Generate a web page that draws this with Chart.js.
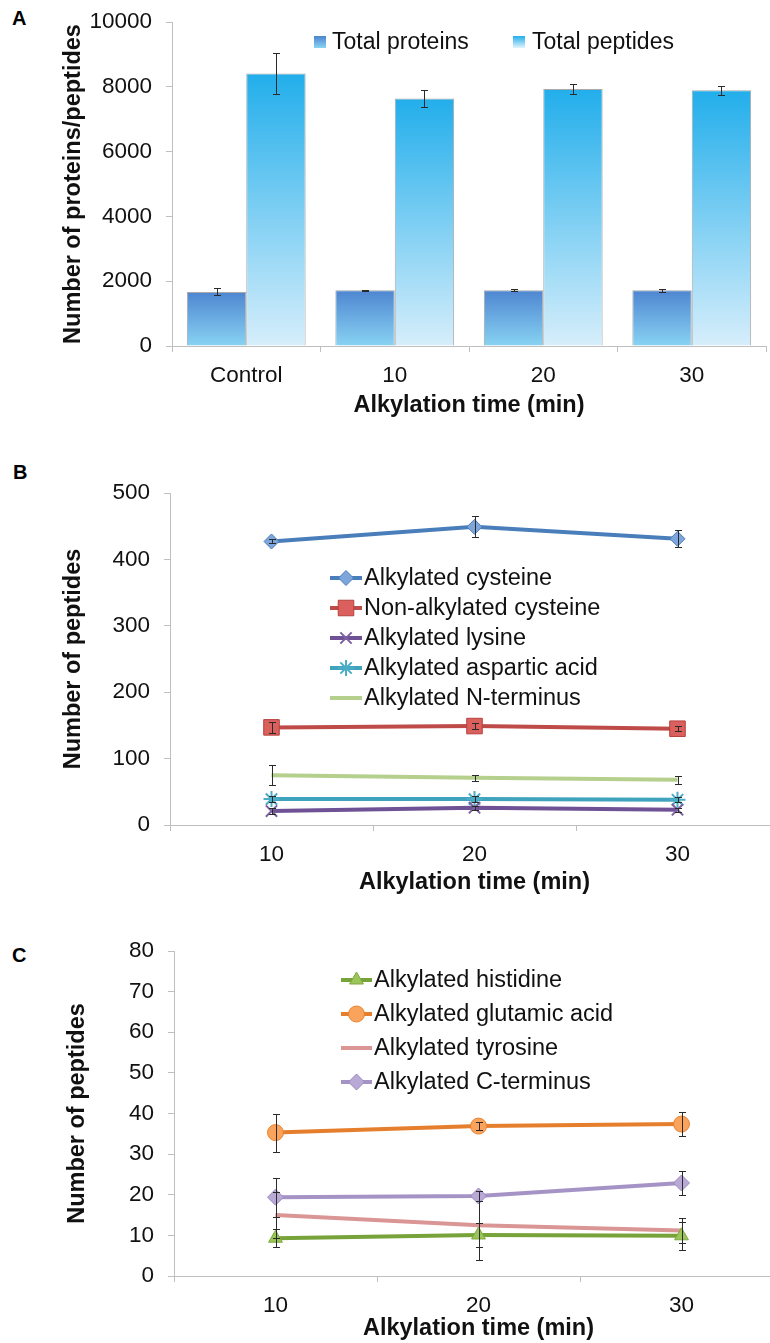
<!DOCTYPE html>
<html><head><meta charset="utf-8">
<script src="https://cdn.jsdelivr.net/npm/chart.js@4.4.1/dist/chart.umd.min.js"></script>
<style>
html,body{margin:0;padding:0;background:#fff;}
body{width:770px;height:1343px;overflow:hidden;position:relative;}
canvas{position:absolute;left:0;}
.lbl{position:absolute;font:bold 20px 'Liberation Sans',Arial,sans-serif;line-height:20px;color:#000;}
</style></head><body>
<div class="lbl" style="left:12px;top:8px">A</div>
<div class="lbl" style="left:13px;top:462px">B</div>
<div class="lbl" style="left:12px;top:945px">C</div>
<canvas id="cA" width="770" height="420" style="top:0;width:770px;height:420px"></canvas>
<canvas id="cB" width="800" height="460" style="top:440px;width:800px;height:460px"></canvas>
<canvas id="cC" width="800" height="443" style="top:900px;width:800px;height:443px"></canvas>
<script>
// ---------- DATA ----------
const categoriesA = ['Control', '10', '20', '30'];
const totalProteins = [1670, 1720, 1720, 1720];
const totalProteinsErr = [110, 20, 30, 40];
const totalPeptides = [8410, 7640, 7930, 7890];
const totalPeptidesErr = [640, 260, 160, 135];

const timesB = ['10', '20', '30'];
const alkCysteine = [427, 449, 431];
const alkCysteineErr = [3, 16, 13];
const nonAlkCysteine = [147, 149, 145];
const nonAlkCysteineErr = [8, 4, 4];
const alkLysine = [21, 26, 23];
const alkLysineErr = [4, 3, 3];
const alkAspartic = [39, 39, 38];
const alkAsparticErr = [4, 4, 4];
const alkNterm = [75, 71, 68];
const alkNtermErr = [15, 4, 6];

const timesC = ['10', '20', '30'];
const alkHistidine = [9.3, 10.1, 9.9];
const alkHistidineErr = [2.2, 3, 3.4];
const alkGlutamic = [35.3, 36.9, 37.4];
const alkGlutamicErr = [4.7, 1, 2.9];
const alkTyrosine = [15.0, 12.5, 11.2];
const alkTyrosineErr = [5.6, 8.5, 3.1];
const alkCterm = [19.4, 19.7, 22.9];
const alkCtermErr = [4.8, 1.3, 3];

// ---------- STYLE ----------
const FONT = "'Liberation Sans', Arial, sans-serif";
Chart.defaults.font.family = FONT;
Chart.defaults.color = '#111';
Chart.defaults.animation = false;
const AXIS = '#bfbfbf';
const TICK_SIZE = 22.5;
const TITLE_SIZE = 23.5;

const errorBars = {
  id: 'errorBars',
  afterDatasetsDraw(chart) {
    const ctx = chart.ctx, ys = chart.scales.y;
    chart.data.datasets.forEach((ds, di) => {
      if (!ds.errors) return;
      const meta = chart.getDatasetMeta(di);
      meta.data.forEach((el, i) => {
        const v = ds.data[i], e = ds.errors[i];
        const x = Math.round(el.x) + 0.5;
        const yt = Math.round(ys.getPixelForValue(v + e)) + 0.5;
        const yb = Math.round(ys.getPixelForValue(Math.max(0, v - e))) + 0.5;
        ctx.save();
        ctx.strokeStyle = '#2a2a2a'; ctx.lineWidth = 1;
        ctx.beginPath();
        ctx.moveTo(x, yt); ctx.lineTo(x, yb);
        ctx.moveTo(x - 3.5, yt); ctx.lineTo(x + 3.5, yt);
        ctx.moveTo(x - 3.5, yb); ctx.lineTo(x + 3.5, yb);
        ctx.stroke();
        ctx.restore();
      });
    });
  }
};

const barLegend = {
  id: 'barLegend',
  afterDraw(chart, args, opts) {
    if (!opts || !opts.items) return;
    const ctx = chart.ctx;
    chart.data.datasets.forEach((ds, i) => {
      const it = opts.items[i];
      const s = opts.size, y = opts.y;
      ctx.save();
      const g = ctx.createLinearGradient(0, y - s / 2, 0, y + s / 2);
      g.addColorStop(0, ds.gradTop); g.addColorStop(1, ds.gradBottom);
      ctx.fillStyle = g;
      ctx.fillRect(it.x, y - s / 2, s, s);
      ctx.fillStyle = '#111';
      ctx.font = opts.fontSize + 'px ' + FONT;
      ctx.textBaseline = 'middle';
      ctx.fillText(ds.label, it.tx, y + 1);
      ctx.restore();
    });
  }
};

const lineLegend = {
  id: 'lineLegend',
  afterDraw(chart, args, opts) {
    if (!opts || opts.y0 === undefined) return;
    const ctx = chart.ctx;
    chart.data.datasets.forEach((ds, i) => {
      const y = opts.y0 + i * opts.dy;
      ctx.save();
      ctx.strokeStyle = ds.borderColor; ctx.lineWidth = ds.borderWidth;
      ctx.beginPath(); ctx.moveTo(opts.x0, y); ctx.lineTo(opts.x1, y); ctx.stroke();
      if (ds.pointRadius > 0) {
        ctx.fillStyle = ds.pointBackgroundColor;
        ctx.strokeStyle = ds.pointBorderColor;
        ctx.lineWidth = ds.pointBorderWidth;
        Chart.helpers.drawPoint(ctx, {pointStyle: ds.pointStyle, radius: ds.pointRadius, rotation: 0, borderWidth: ds.pointBorderWidth}, (opts.x0 + opts.x1) / 2, y);
      }
      ctx.fillStyle = '#111';
      ctx.font = opts.fontSize + 'px ' + FONT;
      ctx.textBaseline = 'middle';
      ctx.fillText(ds.label, opts.tx, y + 1);
      ctx.restore();
    });
  }
};

function barGrad(top, bottom) {
  return (c) => {
    const chart = c.chart;
    if (c.type !== 'data' || !chart.chartArea) return top;
    const ys = chart.scales.y;
    const y0 = ys.getPixelForValue(c.raw), y1 = ys.getPixelForValue(0);
    const g = chart.ctx.createLinearGradient(0, y0, 0, y1);
    g.addColorStop(0, top); g.addColorStop(1, bottom);
    return g;
  };
}

function xAxis(h, titlePadBottom) {
  return {
    type: 'category', offset: true,
    grid: {offset: true, drawOnChartArea: false, tickLength: 6, color: AXIS},
    border: {color: AXIS, width: 1},
    ticks: {font: {size: TICK_SIZE}, padding: 10, maxRotation: 0, autoSkip: false, color: '#111'},
    title: {display: true, text: 'Alkylation time (min)', color: '#111', font: {size: TITLE_SIZE, weight: 'bold', lineHeight: 1.2}, padding: {top: 0, bottom: titlePadBottom}},
    afterFit(s) { s.height = h; }
  };
}
function yAxis(max, step, w, text, titlePadTop) {
  return {
    min: 0, max: max,
    grid: {drawOnChartArea: false, tickLength: 6, color: AXIS},
    border: {color: AXIS, width: 1},
    ticks: {stepSize: step, font: {size: TICK_SIZE}, padding: 14, color: '#111', callback: (v) => String(v)},
    title: {display: true, text: text, color: '#111', font: {size: TITLE_SIZE, weight: 'bold', lineHeight: 1.2}, padding: {top: titlePadTop, bottom: 0}},
    afterFit(s) { s.width = w; s.paddingTop = 0; s.paddingBottom = 0; }
  };
}

// ---------- PANEL A ----------
new Chart(document.getElementById('cA'), {
  type: 'bar',
  data: {
    labels: categoriesA,
    datasets: [
      {label: 'Total proteins', data: totalProteins, errors: totalProteinsErr,
       gradTop: '#4c84d0', gradBottom: '#8ad4f3',
       backgroundColor: barGrad('#4e86d1', '#88d3f3'), borderColor: '#a9a9a9', borderWidth: 1,
       categoryPercentage: 0.8, barPercentage: 1.0},
      {label: 'Total peptides', data: totalPeptides, errors: totalPeptidesErr,
       gradTop: '#22aeeb', gradBottom: '#e2f4fd',
       backgroundColor: barGrad('#22aeeb', '#d6eefb'), borderColor: '#a9a9a9', borderWidth: 1,
       categoryPercentage: 0.8, barPercentage: 1.0}
    ]
  },
  options: {
    responsive: false, animation: false,
    layout: {padding: {top: 22, right: 4, left: 0, bottom: 0}},
    plugins: {legend: {display: false}, tooltip: {enabled: false},
      barLegend: {y: 42, size: 12, fontSize: 23, items: [{x: 314, tx: 332}, {x: 513, tx: 532}]}},
    scales: {
      x: xAxis(74, 0),
      y: yAxis(10000, 2000, 172, 'Number of proteins/peptides', 59)
    }
  },
  plugins: [errorBars, barLegend]
});

// ---------- PANEL B ----------
new Chart(document.getElementById('cB'), {
  type: 'line',
  data: {
    labels: timesB,
    datasets: [
      {label: 'Alkylated cysteine', data: alkCysteine, errors: alkCysteineErr,
       borderColor: '#4a7ebb', borderWidth: 4, pointStyle: 'rectRot', pointRadius: 7.5,
       pointBackgroundColor: '#7fa6da', pointBorderColor: '#4a7ebb', pointBorderWidth: 1},
      {label: 'Non-alkylated cysteine', data: nonAlkCysteine, errors: nonAlkCysteineErr,
       borderColor: '#be4b48', borderWidth: 4, pointStyle: 'rect', pointRadius: 11,
       pointBackgroundColor: '#d9605c', pointBorderColor: '#b8413e', pointBorderWidth: 1},
      {label: 'Alkylated lysine', data: alkLysine, errors: alkLysineErr,
       borderColor: '#6f5196', borderWidth: 4, pointStyle: 'crossRot', pointRadius: 8,
       pointBackgroundColor: '#7d60a0', pointBorderColor: '#7d60a0', pointBorderWidth: 2},
      {label: 'Alkylated aspartic acid', data: alkAspartic, errors: alkAsparticErr,
       borderColor: '#3fa3bd', borderWidth: 4, pointStyle: 'star', pointRadius: 8,
       pointBackgroundColor: '#4bacc6', pointBorderColor: '#4bacc6', pointBorderWidth: 2},
      {label: 'Alkylated N-terminus', data: alkNterm, errors: alkNtermErr,
       borderColor: '#b5cf8d', borderWidth: 4, pointStyle: 'line', pointRadius: 0,
       pointBackgroundColor: '#b5cf8d', pointBorderColor: '#b5cf8d', pointBorderWidth: 0}
    ]
  },
  options: {
    responsive: false, animation: false,
    layout: {padding: {top: 53, right: 21, left: 0, bottom: 0}},
    plugins: {legend: {display: false}, tooltip: {enabled: false},
      lineLegend: {x0: 330, x1: 362, tx: 364, y0: 138, dy: 30, fontSize: 23.5}},
    scales: {
      x: xAxis(75, 3),
      y: yAxis(500, 100, 170, 'Number of peptides', 59)
    }
  },
  plugins: [errorBars, lineLegend]
});

// ---------- PANEL C ----------
new Chart(document.getElementById('cC'), {
  type: 'line',
  data: {
    labels: timesC,
    datasets: [
      {label: 'Alkylated histidine', data: alkHistidine, errors: alkHistidineErr,
       borderColor: '#77a33a', borderWidth: 4, pointStyle: 'triangle', pointRadius: 8,
       pointBackgroundColor: '#9bc45a', pointBorderColor: '#7ea83f', pointBorderWidth: 1},
      {label: 'Alkylated glutamic acid', data: alkGlutamic, errors: alkGlutamicErr,
       borderColor: '#e57f2d', borderWidth: 4, pointStyle: 'circle', pointRadius: 8,
       pointBackgroundColor: '#f9a35c', pointBorderColor: '#e8842f', pointBorderWidth: 1},
      {label: 'Alkylated tyrosine', data: alkTyrosine, errors: alkTyrosineErr,
       borderColor: '#d99694', borderWidth: 4, pointStyle: 'line', pointRadius: 0,
       pointBackgroundColor: '#d99694', pointBorderColor: '#d99694', pointBorderWidth: 0},
      {label: 'Alkylated C-terminus', data: alkCterm, errors: alkCtermErr,
       borderColor: '#a593c6', borderWidth: 4, pointStyle: 'rectRot', pointRadius: 8,
       pointBackgroundColor: '#b9a9d5', pointBorderColor: '#9b88bf', pointBorderWidth: 1}
    ]
  },
  options: {
    responsive: false, animation: false,
    layout: {padding: {top: 51, right: 17, left: 0, bottom: 0}},
    plugins: {legend: {display: false}, tooltip: {enabled: false},
      lineLegend: {x0: 341, x1: 372, tx: 374, y0: 80, dy: 34, fontSize: 23.5}},
    scales: {
      x: xAxis(67, 0),
      y: yAxis(80, 10, 174, 'Number of peptides', 63)
    }
  },
  plugins: [errorBars, lineLegend]
});
</script>
</body></html>
